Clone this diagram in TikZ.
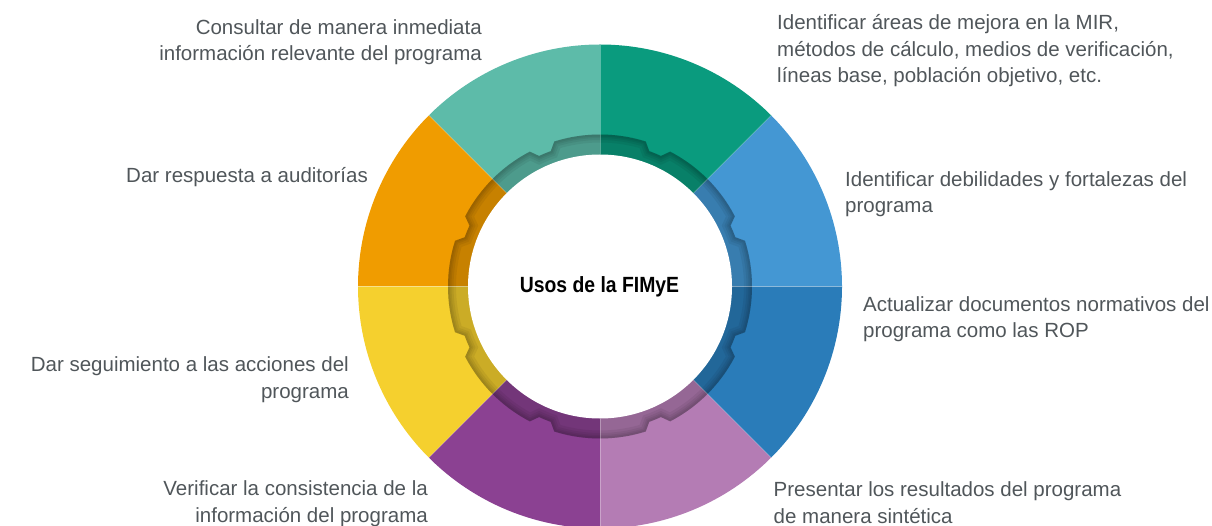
\documentclass[tikz,border=0pt]{standalone}
\usepackage{fontspec}
\setmainfont{Liberation Sans}
\newfontfamily\titlefont[FakeStretch=0.88]{Liberation Sans}
\definecolor{cTeal}{HTML}{5DBBA9}
\definecolor{cGreen}{HTML}{0A9B7E}
\definecolor{cLBlue}{HTML}{4497D3}
\definecolor{cBlue}{HTML}{2A7CB9}
\definecolor{cLPurple}{HTML}{B47CB4}
\definecolor{cPurple}{HTML}{8B4192}
\definecolor{cYellow}{HTML}{F5D02E}
\definecolor{cOrange}{HTML}{F09C00}
\definecolor{txt}{HTML}{50565A}
\begin{document}
\begin{tikzpicture}[x=1pt,y=1pt,
  label/.style={inner sep=0pt, text=txt, font=\fontsize{20.5}{26.5}\selectfont},
  lab r/.style={label, align=right, anchor=base east},
  lab l/.style={label, align=left, anchor=base west},
  gearpath/.style={insert path={(-17.5:152)
     \foreach \k in {0,...,7}{
       arc[start angle={45*\k-17.5}, end angle={45*\k+17.5}, radius=152pt]
       -- ({45*\k+20}:144) arc[start angle={45*\k+20}, end angle={45*\k+25}, radius=144pt]
       -- ({45*\k+27.5}:152)} -- cycle}}]
\clip (0,0) rectangle (1212,525);
\useasboundingbox (0,0) rectangle (1212,525);
\begin{scope}[shift={(600,238.5)}]
  \foreach \a/\c in {0/cLBlue,45/cGreen,90/cTeal,135/cOrange,180/cYellow,225/cPurple,270/cLPurple,315/cBlue}{
    \fill[\c] (0,0) -- (\a:242) arc[start angle=\a, end angle=\a+45, radius=242pt] -- cycle;
  }
  \fill[black, opacity=0.17, gearpath];
  \begin{scope}
    \clip[gearpath];
    \foreach \w in {16,11,7,4}{
      \draw[black, opacity=0.06, line width=\w pt, gearpath];
    }
  \end{scope}
  \foreach \a in {0,45,...,315}{
    \draw[white, opacity=0.3, line width=0.6pt] (\a:132) -- (\a:242);
  }
  \fill[white] (0,0) circle[radius=132pt];
\end{scope}
\node[inner sep=0pt, anchor=base, font=\titlefont\bfseries\fontsize{22}{26}\selectfont] (title) at (599.5,232.3) {Usos de la FIMyE};
\node[lab r] (t1) at (482,464) {Consultar de manera inmediata\\información relevante del programa};
\node[lab l] (t2) at (777,442) {Identificar áreas de mejora en la MIR,\\métodos de cálculo, medios de verificación,\\líneas base, población objetivo, etc.};
\node[lab r] (t3) at (368,342) {Dar respuesta a auditorías};
\node[lab l] (t4) at (845,312) {Identificar debilidades y fortalezas del\\programa};
\node[lab l] (t5) at (863,187) {Actualizar documentos normativos del\\programa como las ROP};
\node[lab r] (t6) at (349,127) {Dar seguimiento a las acciones del\\programa};
\node[lab r] (t7) at (428,3) {Verificar la consistencia de la\\información del programa};
\node[lab l] (t8) at (773.5,2) {Presentar los resultados del programa\\de manera sintética};
\end{tikzpicture}
\end{document}
